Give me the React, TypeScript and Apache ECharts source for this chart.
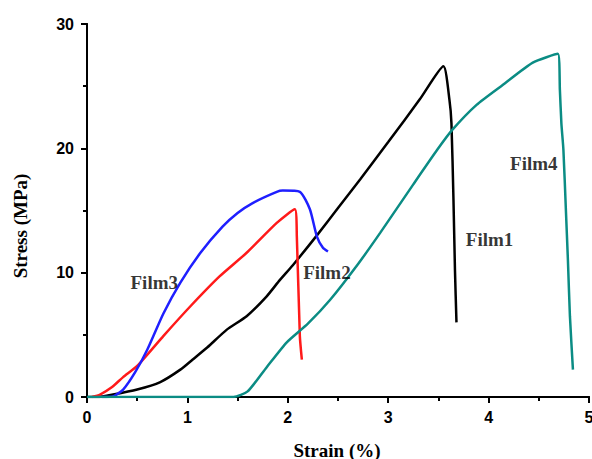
import React, { useEffect, useRef } from "react";
import * as echarts from "echarts";

const film1: [number, number][] = [
  [0.0, 0], [0.1, 0.0], [0.26, 0.2], [0.5, 0.6], [0.73, 1.2], [0.93, 2.2], [1.05, 3.0], [1.2, 4.0],
  [1.39, 5.4], [1.59, 6.5], [1.79, 8.1], [1.92, 9.4], [2.05, 10.6], [2.29, 13.0], [2.5, 15.2],
  [2.72, 17.5], [3.0, 20.5], [3.32, 24.0], [3.55, 26.6], [3.61, 23.9], [3.63, 22.0],
  [3.65, 15.9], [3.665, 10.2], [3.68, 6.0],
];
const film2: [number, number][] = [
  [0.05, 0], [0.13, 0.2], [0.25, 0.8], [0.36, 1.6], [0.5, 2.5], [0.76, 4.9], [1.03, 7.3],
  [1.32, 9.7], [1.59, 11.6], [1.89, 14.0], [2.07, 15.1], [2.09, 12.9], [2.12, 4.9], [2.14, 3.0],
];
const film3: [number, number][] = [
  [0.15, 0], [0.26, 0.05], [0.36, 0.6], [0.48, 2.0], [0.6, 3.8], [0.76, 6.7], [0.93, 9.2],
  [1.13, 11.6], [1.35, 13.7], [1.5, 14.8], [1.65, 15.6], [1.89, 16.5], [1.95, 16.6],
  [2.12, 16.5], [2.22, 15.1], [2.29, 12.9], [2.35, 12.0], [2.4, 11.7],
];
const film4: [number, number][] = [
  [0.0, 0], [1.46, 0], [1.6, 0.45], [1.79, 2.4], [1.99, 4.4], [2.2, 5.9], [2.42, 7.8],
  [2.7, 10.7], [2.92, 13.2], [3.25, 17.1], [3.49, 19.9], [3.64, 21.5], [3.88, 23.5],
  [4.14, 25.1], [4.44, 26.9], [4.69, 27.6], [4.71, 24.7], [4.725, 22.0], [4.745, 19.9],
  [4.77, 15.0], [4.79, 11.0], [4.81, 6.5], [4.84, 2.2],
];

const labelNames = ["Film3", "Film2", "Film1", "Film4"];
const labelPos: [number, number][] = [[0.67, 9.2], [2.39, 10.0], [4.01, 12.7], [4.45, 18.8]];

const seriesNames = ["Film1", "Film2", "Film3", "Film4"];
const seriesData = [film1, film2, film3, film4];
const seriesColors = ["#000000", "#ff1a1a", "#1f1fff", "#0b8c84"];

const serif = "Liberation Serif, Times New Roman, serif";

export default function App() {
  const ref = useRef<HTMLDivElement>(null);
  useEffect(() => {
    const chart = echarts.init(ref.current!, undefined, { renderer: "svg" });
    const axisFontLabel = {
      fontFamily: "Liberation Sans, Arial, sans-serif",
      fontWeight: "bold" as const,
      fontSize: 16,
      color: "#000",
    };
    chart.setOption({
      animation: false,
      backgroundColor: "#fff",
      grid: { left: 87, right: 3, top: 24, bottom: 62, outerBoundsMode: "none", containLabel: false },
      graphic: [
        {
          type: "text",
          x: 337,
          y: 450,
          style: { text: "Strain (%)", font: `bold 19px ${serif}`, fill: "#000", textAlign: "center", textVerticalAlign: "middle" },
        },
        {
          type: "text",
          x: 20,
          y: 226,
          rotation: Math.PI / 2,
          style: { text: "Stress (MPa)", font: `bold 19px ${serif}`, fill: "#000", textAlign: "center", textVerticalAlign: "middle" },
        },
      ],
      xAxis: [
        {
          type: "value",
          min: 0,
          max: 5,
          interval: 1,
          axisLine: { lineStyle: { color: "#000", width: 2 } },
          axisTick: { length: 6, lineStyle: { color: "#000", width: 2 } },
          minorTick: { show: true, splitNumber: 2, length: 4, lineStyle: { color: "#000", width: 2 } },
          axisLabel: { ...axisFontLabel, margin: 12 },
          splitLine: { show: false },
        },
        {
          type: "value",
          position: "top",
          min: 0,
          max: 5,
          axisLine: { show: true, lineStyle: { color: "#000", width: 2 } },
          axisTick: { show: false },
          axisLabel: { show: false },
          splitLine: { show: false },
        },
      ],
      yAxis: [
        {
          type: "value",
          min: 0,
          max: 30,
          interval: 10,
          axisLine: { show: true, lineStyle: { color: "#000", width: 2 } },
          axisTick: { length: 6, lineStyle: { color: "#000", width: 2 } },
          minorTick: { show: true, splitNumber: 2, length: 4, lineStyle: { color: "#000", width: 2 } },
          axisLabel: { ...axisFontLabel, margin: 13 },
          splitLine: { show: false },
        },
        {
          type: "value",
          position: "right",
          min: 0,
          max: 30,
          axisLine: { show: true, lineStyle: { color: "#000", width: 2 } },
          axisTick: { show: false },
          axisLabel: { show: false },
          splitLine: { show: false },
        },
      ],
      series: [
        ...seriesData.map((d, i) => ({
          name: seriesNames[i],
          type: "line",
          data: d,
          showSymbol: false,
          smooth: 0.2,
          lineStyle: { color: seriesColors[i], width: 2.5 },
          itemStyle: { color: seriesColors[i] },
          z: 3,
        })),
        {
          type: "scatter",
          symbolSize: 0,
          data: labelPos.map((p, i) => ({ value: p, name: labelNames[i] })),
          label: {
            show: true,
            position: "inside",
            formatter: (p: any) => p.name,
            fontFamily: serif,
            fontWeight: "bold",
            fontSize: 19,
            color: "#000",
          },
          z: 5,
        },
      ],
    });
    return () => chart.dispose();
  }, []);
  return <div ref={ref} style={{ width: 592, height: 459, position: "absolute", left: 0, top: 0 }} />;
}
